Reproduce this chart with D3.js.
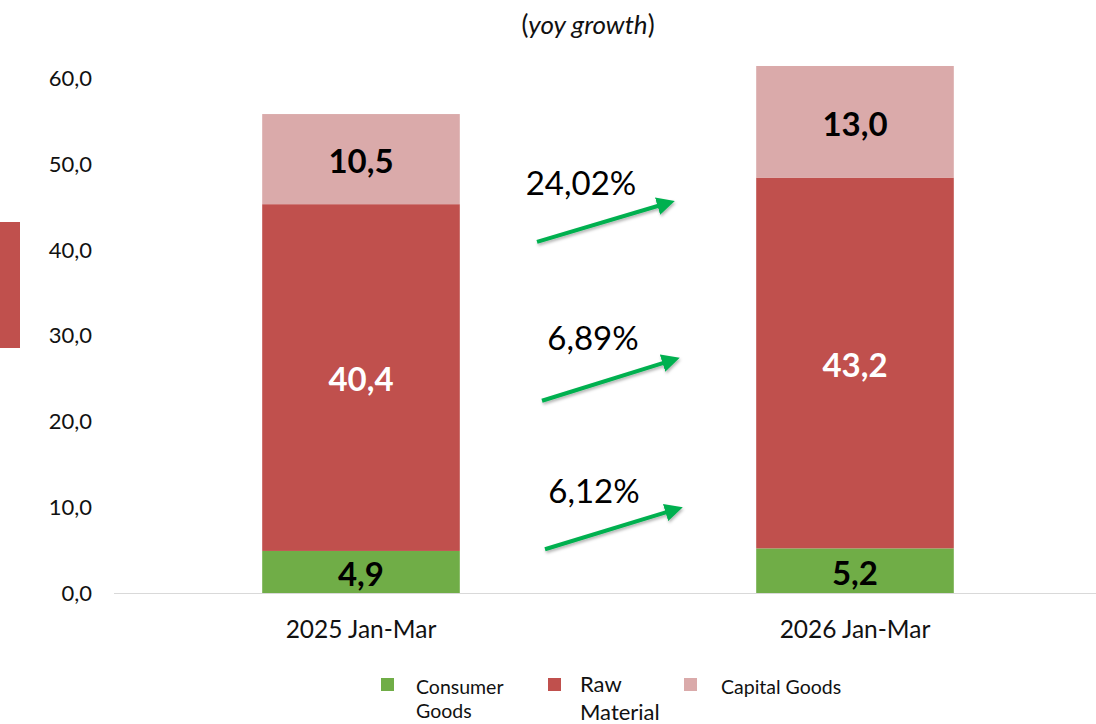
<!DOCTYPE html>
<html><head><meta charset="utf-8">
<script src="https://cdn.jsdelivr.net/npm/d3@7"></script>
<style>body{margin:0;background:#fff;}svg{display:block;font-family:Lato, "Open Sans", sans-serif;}</style>
</head><body>
<svg id="c" width="1096" height="724"></svg>
<script>
const categories = ["2025 Jan-Mar", "2026 Jan-Mar"];
const seriesNames = ["Consumer Goods", "Raw Material", "Capital Goods"];
const consumerGoods = [4.9, 5.2];
const rawMaterial = [40.4, 43.2];
const capitalGoods = [10.5, 13.0];
const growthLabels = ["6,12%", "6,89%", "24,02%"];
const yTicks = [0, 10, 20, 30, 40, 50, 60];
const colors = ["#70AD47", "#C0504D", "#DAAAAA"];
const labelColors = ["#000", "#fff", "#000"];

const svg = d3.select("#c");
const x = d3.scaleBand().domain(categories).range([114, 1102]).padding(0);
const y = d3.scaleLinear().domain([0, 60]).range([593, 78]);
const fmt = v => d3.format(".1f")(v).replace(".", ",");

// left decoration
svg.append("rect").attr("x", 0).attr("y", 222).attr("width", 20).attr("height", 126).attr("fill", "#C0504D");

// subtitle
const st = svg.append("text").attr("x", 588).attr("y", 34).attr("text-anchor", "middle")
  .attr("font-size", 26).attr("fill", "#111");
st.append("tspan").text("(");
st.append("tspan").attr("font-style", "italic").text("yoy growth");
st.append("tspan").text(")");

// y axis labels
svg.append("g").selectAll("text").data(yTicks).join("text")
  .attr("x", 92).attr("y", d => y(d)).attr("dy", "0.36em").attr("text-anchor", "end")
  .attr("font-size", 22).attr("fill", "#111").text(fmt);

// stacked data
const rows = categories.map((c, i) => ({cat: c, "Consumer Goods": consumerGoods[i], "Raw Material": rawMaterial[i], "Capital Goods": capitalGoods[i]}));
const stack = d3.stack().keys(seriesNames)(rows);
const bw = x.bandwidth() * 0.4;
const bx = c => x(c) + (x.bandwidth() - bw) / 2;

stack.forEach((s, si) => {
  const g = svg.append("g");
  g.selectAll("rect").data(s).join("rect")
    .attr("x", d => bx(d.data.cat)).attr("width", bw)
    .attr("y", d => y(d[1])).attr("height", d => y(d[0]) - y(d[1]))
    .attr("fill", colors[si]);
  g.selectAll("text").data(s).join("text")
    .attr("x", d => x(d.data.cat) + x.bandwidth() / 2)
    .attr("y", d => y((d[0] + d[1]) / 2) + 2).attr("dy", "0.36em")
    .attr("text-anchor", "middle").attr("font-size", 33).attr("font-weight", "bold")
    .attr("fill", labelColors[si]).text(d => fmt(d.data[s.key]));
});

// x axis line and labels
svg.append("line").attr("x1", 114).attr("x2", 1096).attr("y1", y(0) + 0.5).attr("y2", y(0) + 0.5)
  .attr("stroke", "#d9d9d9").attr("stroke-width", 1.2);
svg.append("g").selectAll("text").data(categories).join("text")
  .attr("x", d => x(d) + x.bandwidth() / 2).attr("y", 638).attr("text-anchor", "middle")
  .attr("font-size", 24.5).attr("fill", "#111").text(d => d);

// growth arrows
const defs = svg.append("defs");
defs.append("marker").attr("id", "ah").attr("viewBox", "0 0 10 10").attr("refX", 2).attr("refY", 5)
  .attr("markerWidth", 4.5).attr("markerHeight", 4.5).attr("orient", "auto").attr("markerUnits", "strokeWidth")
  .append("path").attr("d", "M0,0 L10,5 L0,10 Z").attr("fill", "#00B050");
const f = defs.append("filter").attr("id", "sh").attr("x", "-20%").attr("y", "-50%").attr("width", "140%").attr("height", "200%");
f.append("feDropShadow").attr("dx", 1).attr("dy", 2).attr("stdDeviation", 1.5).attr("flood-color", "#000").attr("flood-opacity", 0.3);

const arrowSpecs = [
  {x1: 545, y1v: 5.1, x2: 669, y2v: 9.5, tx: 594, tyv: 10.5},
  {x1: 542, y1v: 22.4, x2: 666, y2v: 26.9, tx: 593, tyv: 28.3},
  {x1: 537, y1v: 40.9, x2: 661, y2v: 45.2, tx: 581, tyv: 46.4}
];
arrowSpecs.forEach((a, i) => {
  svg.append("line").attr("x1", a.x1).attr("y1", y(a.y1v)).attr("x2", a.x2).attr("y2", y(a.y2v))
    .attr("stroke", "#00B050").attr("stroke-width", 4).attr("marker-end", "url(#ah)").attr("filter", "url(#sh)");
  svg.append("text").attr("x", a.tx).attr("y", y(a.tyv)).attr("text-anchor", "middle")
    .attr("font-size", 33).attr("fill", "#000").text(growthLabels[i]);
});

// legend
const leg = [
  {sx: 381, tx: 416, lines: ["Consumer", "Goods"], ty: 694, fs: 19.5, lh: 24},
  {sx: 548, tx: 580, lines: ["Raw", "Material"], ty: 692, fs: 22, lh: 28},
  {sx: 684, tx: 721, lines: ["Capital Goods"], ty: 694, fs: 19.5, lh: 24}
];
leg.forEach((l, i) => {
  svg.append("rect").attr("x", l.sx).attr("y", 678).attr("width", 13).attr("height", 13).attr("fill", colors[i]);
  const t = svg.append("text").attr("x", l.tx).attr("y", l.ty).attr("font-size", l.fs).attr("fill", "#111");
  l.lines.forEach((ln, j) => t.append("tspan").attr("x", l.tx).attr("dy", j === 0 ? 0 : l.lh).text(ln));
});
</script>
</body></html>
